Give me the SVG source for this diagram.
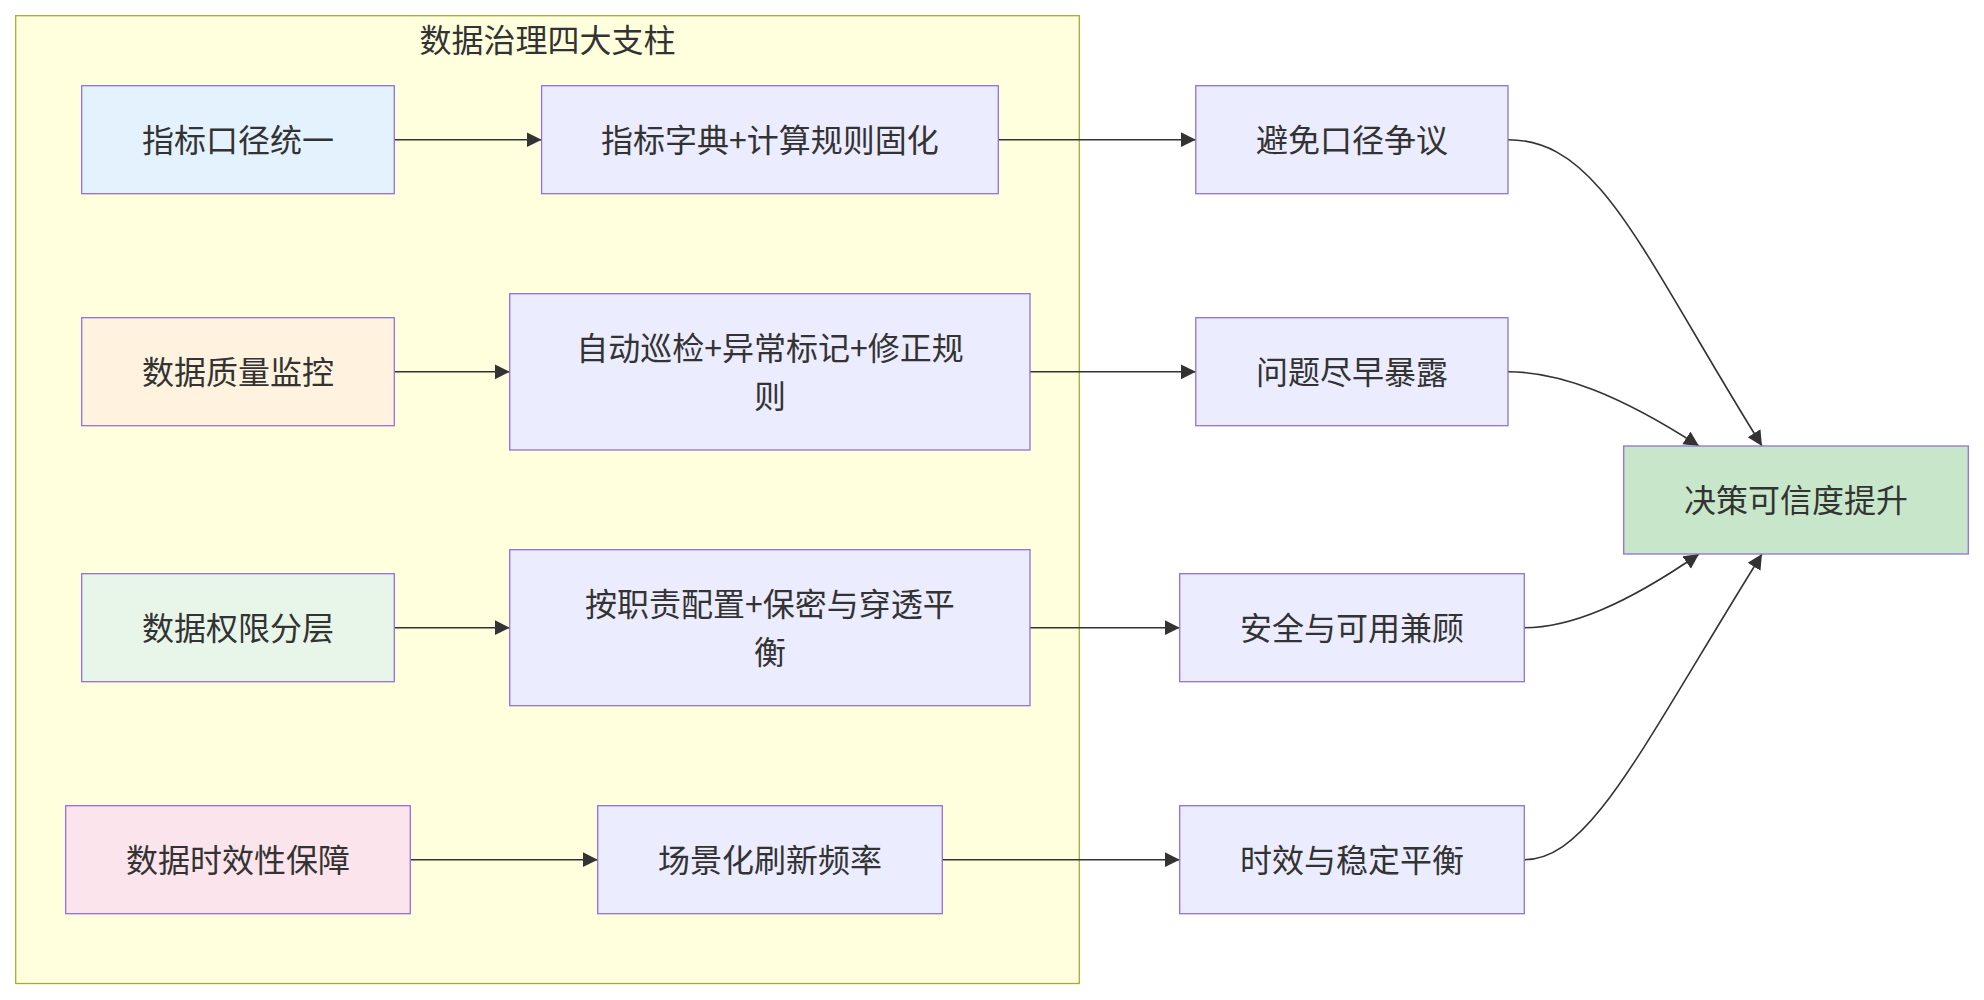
<svg xmlns="http://www.w3.org/2000/svg" width="1984" height="1000" viewBox="0 0 1984 1000">
<style>
.bg{fill:#ffffff}
.cluster rect{fill:#ffffde;stroke:#aaaa33;stroke-width:1.3}
.node rect{fill:#ececff;stroke:#9370db;stroke-width:1.3}
text{font-family:"Noto Sans CJK SC","Liberation Sans",sans-serif;font-size:32px;fill:#333333;text-anchor:middle;dominant-baseline:central}
.edge path{fill:none;stroke:#333333;stroke-width:1.6}
</style>
<defs>
<marker id="arrow" viewBox="0 0 10 10" refX="10" refY="5" markerUnits="userSpaceOnUse" markerWidth="15" markerHeight="16" orient="auto">
<path d="M0,0 L10,5 L0,10 z" fill="#333333"/>
</marker>
</defs>
<rect class="bg" x="0" y="0" width="1984" height="1000"/>
<g id="cluster-pillars" class="cluster">
<rect x="15.7" y="15.7" width="1063.6" height="967.8"/>
<text x="547.5" y="38">数据治理四大支柱</text>
</g>
<g id="connectors" class="edge">
<path d="M394.3,139.7 L541.6,139.7" marker-end="url(#arrow)"/>
<path d="M998.3,139.7 L1195.8,139.7" marker-end="url(#arrow)"/>
<path d="M394.3,371.8 L509.7,371.8" marker-end="url(#arrow)"/>
<path d="M1030,371.8 L1195.8,371.8" marker-end="url(#arrow)"/>
<path d="M394.3,627.7 L509.7,627.7" marker-end="url(#arrow)"/>
<path d="M1030,627.7 L1179.7,627.7" marker-end="url(#arrow)"/>
<path d="M410.3,859.7 L597.7,859.7" marker-end="url(#arrow)"/>
<path d="M942.3,859.7 L1179.7,859.7" marker-end="url(#arrow)"/>
<path d="M1508,139.7 C1600,139.7 1640,250 1762,446" marker-end="url(#arrow)"/>
<path d="M1508,371.7 C1560,371.7 1620,395 1699,446" marker-end="url(#arrow)"/>
<path d="M1524.3,627.7 C1570,627.7 1625,605 1699,554" marker-end="url(#arrow)"/>
<path d="M1524.3,859.7 C1590,859.7 1640,750 1762,554" marker-end="url(#arrow)"/>
</g>
<g id="node-A1" class="node">
<rect x="81.7" y="85.7" width="312.6" height="108" style="fill:#e3f2fd"/>
<text x="238" y="137.7">指标口径统一</text>
</g>
<g id="node-A2" class="node">
<rect x="541.6" y="85.7" width="456.7" height="108"/>
<text x="770" y="137.7">指标字典+计算规则固化</text>
</g>
<g id="node-A3" class="node">
<rect x="1195.8" y="85.7" width="312.2" height="108"/>
<text x="1352" y="137.7">避免口径争议</text>
</g>
<g id="node-B1" class="node">
<rect x="81.7" y="317.7" width="312.6" height="108" style="fill:#fff3e0"/>
<text x="238" y="369.7">数据质量监控</text>
</g>
<g id="node-B2" class="node">
<rect x="509.7" y="293.7" width="520.3" height="156.3"/>
<text x="770" y="345.9">自动巡检+异常标记+修正规</text>
<text x="770" y="393.9">则</text>
</g>
<g id="node-B3" class="node">
<rect x="1195.8" y="317.7" width="312.2" height="108"/>
<text x="1352" y="369.7">问题尽早暴露</text>
</g>
<g id="node-C1" class="node">
<rect x="81.7" y="573.7" width="312.6" height="108" style="fill:#e8f5e9"/>
<text x="238" y="625.7">数据权限分层</text>
</g>
<g id="node-C2" class="node">
<rect x="509.7" y="549.7" width="520.3" height="156"/>
<text x="770" y="601.7">按职责配置+保密与穿透平</text>
<text x="770" y="649.7">衡</text>
</g>
<g id="node-C3" class="node">
<rect x="1179.7" y="573.7" width="344.6" height="108"/>
<text x="1352" y="625.7">安全与可用兼顾</text>
</g>
<g id="node-D1" class="node">
<rect x="65.7" y="805.7" width="344.6" height="108" style="fill:#fce4ec"/>
<text x="238" y="857.7">数据时效性保障</text>
</g>
<g id="node-D2" class="node">
<rect x="597.7" y="805.7" width="344.6" height="108"/>
<text x="770" y="857.7">场景化刷新频率</text>
</g>
<g id="node-D3" class="node">
<rect x="1179.7" y="805.7" width="344.6" height="108"/>
<text x="1352" y="857.7">时效与稳定平衡</text>
</g>
<g id="node-E" class="node">
<rect x="1623.7" y="446" width="344.6" height="108" style="fill:#c8e6c9"/>
<text x="1796" y="498">决策可信度提升</text>
</g>
</svg>
